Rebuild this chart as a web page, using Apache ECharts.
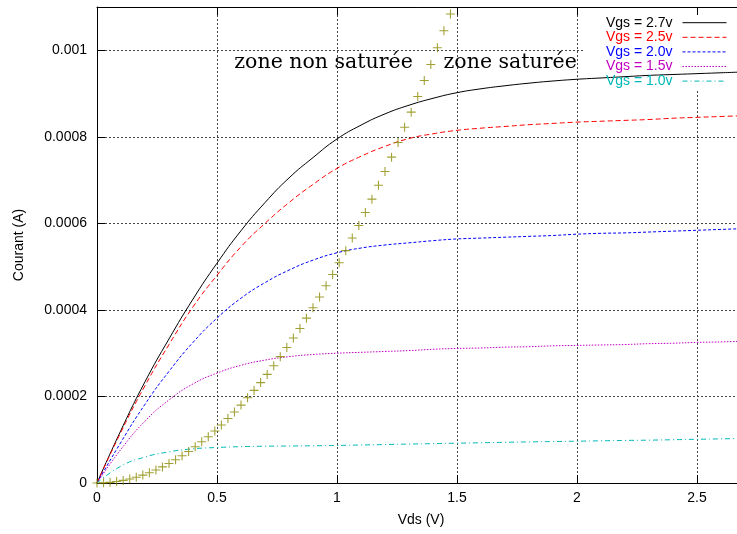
<!DOCTYPE html>
<html>
<head>
<meta charset="utf-8">
<script src="https://cdn.jsdelivr.net/npm/echarts@6/dist/echarts.min.js"></script>
<style>
html, body { margin: 0; padding: 0; background: #ffffff; }
#chart { width: 737px; height: 534px; }
</style>
</head>
<body>
<div id="chart"></div>
<script>
// Drain voltage samples (V) for the characteristic curves
const vds = [0, 0.1, 0.2, 0.3, 0.4, 0.5, 0.6, 0.7, 0.8, 0.9, 1.0, 1.1, 1.2, 1.3,
  1.4, 1.5, 1.6, 1.7, 1.8, 1.9, 2.0, 2.1, 2.2, 2.3, 2.4, 2.5, 2.6, 2.7];

// Drain current (A) for each gate voltage
const id27 = [0, 0.000122, 0.000234, 0.000333, 0.000425, 0.000508, 0.000583, 0.000648,
  0.000705, 0.000752, 0.000795, 0.000827, 0.000853, 0.000873, 0.000889, 0.000902, 0.000911,
  0.000918, 0.000924, 0.000929, 0.000933, 0.000936, 0.000939, 0.000942, 0.000944, 0.000946,
  0.000948, 0.00095];
const id25 = [0, 0.000118, 0.000225, 0.00032, 0.000407, 0.00048, 0.000546, 0.0006,
  0.000648, 0.00069, 0.000727, 0.000755, 0.000778, 0.000796, 0.000807, 0.000815, 0.00082,
  0.000824, 0.000828, 0.000831, 0.000834, 0.000836, 0.000838, 0.00084, 0.000843, 0.000845,
  0.000847, 0.000849];
const id20 = [0, 0.0000945, 0.000182, 0.000258, 0.000325, 0.000381, 0.000427, 0.000463,
  0.000492, 0.000515, 0.000532, 0.000543, 0.00055, 0.000555, 0.00056, 0.000564, 0.000566,
  0.000568, 0.00057, 0.000572, 0.000575, 0.000577, 0.000578, 0.00058, 0.000582, 0.000584,
  0.000586, 0.000588];
const id15 = [0, 0.000078, 0.000143, 0.000192, 0.000229, 0.000254, 0.000272, 0.000284,
  0.000292, 0.000297, 0.0003, 0.000302, 0.000304, 0.000306, 0.000309, 0.000311, 0.000312,
  0.000314, 0.000315, 0.000317, 0.000318, 0.000319, 0.00032, 0.000322, 0.000323, 0.000325,
  0.000326, 0.000328];
const id10 = [0, 0.000039, 0.00006, 0.000072, 0.000079, 0.000082, 0.000084, 0.000085,
  0.0000855, 0.000086, 0.0000868, 0.0000878, 0.0000889, 0.00009, 0.000091, 0.000092, 0.000093,
  0.000094, 0.000095, 0.0000958, 0.0000966, 0.0000975, 0.0000984, 0.000099, 0.0001, 0.000101,
  0.000102, 0.000103];

// Saturation boundary (Vds, Id) sample points
const satVds = [0, 0.0273, 0.0545, 0.0818, 0.1091, 0.1364, 0.1636, 0.1909, 0.2182, 0.2455,
  0.2727, 0.3, 0.3273, 0.3545, 0.3818, 0.4091, 0.4364, 0.4636, 0.4909, 0.5182, 0.5455, 0.5727,
  0.6, 0.6273, 0.6545, 0.6818, 0.7091, 0.7364, 0.7636, 0.7909, 0.8182, 0.8455, 0.8727, 0.9,
  0.9273, 0.9545, 0.9818, 1.0091, 1.0364, 1.0636, 1.0909, 1.1182, 1.1455, 1.1727, 1.2, 1.2273,
  1.2545, 1.2818, 1.3091, 1.3364, 1.3636, 1.3909, 1.4182, 1.4455, 1.4727];
const satId = [0, 0.00000037, 0.0000015, 0.0000033, 0.000006, 0.0000093, 0.0000134, 0.0000182,
  0.0000238, 0.0000301, 0.0000372, 0.000045, 0.0000536, 0.0000629, 0.0000729, 0.0000837,
  0.0000952, 0.000107, 0.00012, 0.000134, 0.000149, 0.000164, 0.00018, 0.000197, 0.000214,
  0.000232, 0.000251, 0.000271, 0.000292, 0.000313, 0.000335, 0.000357, 0.000381, 0.000405,
  0.00043, 0.000456, 0.000482, 0.000509, 0.000537, 0.000566, 0.000595, 0.000625, 0.000656,
  0.000688, 0.00072, 0.000753, 0.000787, 0.000822, 0.000857, 0.000893, 0.00093, 0.000967,
  0.001006, 0.001045, 0.001084];

// Axis ticks
const xTicks = { min: 0, max: 2.7, step: 0.5 };
const yTicks = { min: 0, max: 0.0011, step: 0.0002 };

// Zone annotations: text, anchor Vds, anchor Id
const zoneLabels = [
  ['zone non saturée', 0.572, 0.000971],
  ['zone saturée', 1.444, 0.000971]
];

const SANS = '"Liberation Sans", Arial, Helvetica, sans-serif';
const SERIF = '"DejaVu Serif", serif';

const curves = [
  { name: 'Vgs = 2.7v', values: id27, color: '#000000', dash: 'solid' },
  { name: 'Vgs = 2.5v', values: id25, color: '#ff0000', dash: [5, 3] },
  { name: 'Vgs = 2.0v', values: id20, color: '#0000ff', dash: [3, 2] },
  { name: 'Vgs = 1.5v', values: id15, color: '#c000c0', dash: [1.5, 1.5] },
  { name: 'Vgs = 1.0v', values: id10, color: '#00b8b8', dash: [5, 3, 1, 3] }
];

function pairs(xs, ys) { return xs.map((x, i) => [x, ys[i]]); }

const series = curves.map(c => ({
  name: c.name,
  type: 'line',
  data: pairs(vds, c.values),
  symbol: 'none',
  showSymbol: false,
  smooth: true,
  lineStyle: { color: c.color, width: 1, type: c.dash },
  itemStyle: { color: c.color },
  z: 3,
  silent: true
}));

series.push({
  name: 'saturation',
  type: 'scatter',
  data: pairs(satVds, satId),
  symbol: 'path://M0,4.4H10V5.6H0ZM4.4,0H5.6V10H4.4Z',
  symbolSize: 9,
  itemStyle: { color: '#8a8a00' },
  z: 3,
  silent: true
});

function yFmt(v) {
  if (Math.abs(v) < 1e-12) return '0';
  return v.toFixed(4).replace(/0+$/, '');
}

const gridLine = { show: true, lineStyle: { color: '#444444', width: 1, type: [2, 2] } };
const frameLine = { show: true, onZero: false, lineStyle: { color: '#000000', width: 1 } };
const innerTick = { show: true, inside: true, length: 8, lineStyle: { color: '#000000', width: 1 } };

const chart = echarts.init(document.getElementById('chart'), null, { renderer: 'canvas' });

chart.setOption({
  animation: false,
  backgroundColor: '#ffffff',
  grid: { left: 97, top: 7, width: 648, height: 476, containLabel: false, outerBoundsMode: 'none' },
  xAxis: [
    {
      type: 'value', position: 'bottom',
      min: xTicks.min, max: xTicks.max, interval: xTicks.step,
      axisLine: frameLine, axisTick: innerTick,
      axisLabel: { color: '#000000', fontFamily: SANS, fontSize: 14, margin: 8,
        showMaxLabel: false, hideOverlap: false },
      splitLine: gridLine,
      name: 'Vds (V)', nameLocation: 'middle', nameGap: 30,
      nameTextStyle: { color: '#000000', fontFamily: SANS, fontSize: 14 }
    },
    {
      type: 'value', position: 'top', z: 4,
      min: xTicks.min, max: xTicks.max, interval: xTicks.step,
      axisLine: frameLine, axisTick: innerTick,
      axisLabel: { show: false }, splitLine: { show: false }
    }
  ],
  yAxis: [
    {
      type: 'value', position: 'left',
      min: yTicks.min, max: yTicks.max, interval: yTicks.step,
      axisLine: frameLine, axisTick: innerTick,
      axisLabel: { color: '#000000', fontFamily: SANS, fontSize: 14, margin: 10,
        formatter: yFmt, showMaxLabel: false },
      splitLine: gridLine,
      name: 'Courant (A)', nameLocation: 'middle', nameGap: 71, nameRotate: 90,
      nameTextStyle: { color: '#000000', fontFamily: SANS, fontSize: 14 }
    },
    {
      type: 'value', position: 'right', z: 4,
      min: yTicks.min, max: yTicks.max, interval: yTicks.step,
      axisLine: frameLine, axisTick: innerTick,
      axisLabel: { show: false }, splitLine: { show: false }
    }
  ],
  legend: {
    orient: 'vertical',
    right: 10, top: 15.7,
    align: 'right',
    padding: 0,
    itemWidth: 44, itemHeight: 14, itemGap: 0.6,
    selectedMode: false,
    z: 5,
    itemStyle: { opacity: 0 },
    lineStyle: { width: 1 },
    textStyle: { fontFamily: SANS, fontSize: 14, lineHeight: 14, padding: [0, 5, 0, 0] },
    data: curves.map(c => ({ name: c.name, textStyle: { color: c.color } }))
  },
  series: series
});

// Key background and zone annotations
const keyTopLeft = chart.convertToPixel({ xAxisIndex: 0, yAxisIndex: 0 }, [2.025, 0.0011]);
const graphics = [{
  type: 'rect', z: 1, silent: true,
  shape: { x: keyTopLeft[0], y: keyTopLeft[1] + 1, width: 170, height: 82 },
  style: { fill: '#ffffff' }
}];
zoneLabels.forEach(([text, x, y]) => {
  const p = chart.convertToPixel({ xAxisIndex: 0, yAxisIndex: 0 }, [x, y]);
  graphics.push({
    type: 'text', z: 6, silent: true,
    x: p[0], y: p[1],
    style: { text: text, fill: '#000000', font: '20.5px ' + SERIF, align: 'left', verticalAlign: 'middle' }
  });
});
chart.setOption({ graphic: graphics });
</script>
</body>
</html>
